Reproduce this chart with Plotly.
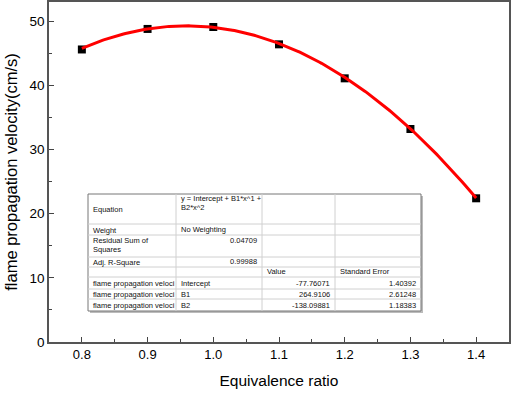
import numpy as np
import plotly.graph_objects as go

# Data
ratio = [0.8, 0.9, 1.0, 1.1, 1.2, 1.3, 1.4]
velocity = [45.6, 48.8, 49.1, 46.4, 41.1, 33.2, 22.4]
# Fit coefficients (from the reference table)
intercept, b1, b2 = -77.76071, 264.9106, -138.09881

x_ticks = [0.8, 0.9, 1.0, 1.1, 1.2, 1.3, 1.4]
x_ticklabels = ["0.8", "0.9", "1.0", "1.1", "1.2", "1.3", "1.4"]
y_ticks = [0, 10, 20, 30, 40, 50]

W, H = 512, 394
L, R, T, B = 49, 3, 2, 52
PW, PH = W - L - R, H - T - B

def px(X):
    return (X - L) / PW

def py(Y):
    return (H - B - Y) / PH

xf = np.linspace(0.8, 1.4, 200)
yf = intercept + b1 * xf + b2 * xf ** 2

fig = go.Figure()
fig.add_trace(go.Scatter(x=ratio, y=velocity, mode="markers",
                         marker=dict(symbol="square", size=8, color="black",
                                     line=dict(width=0)),
                         showlegend=False))
fig.add_trace(go.Scatter(x=xf, y=yf, mode="lines",
                         line=dict(color="#ff0000", width=3), showlegend=False))

font = "Liberation Sans, Arial, sans-serif"
fig.update_layout(
    width=W, height=H,
    margin=dict(l=L, r=R, t=T, b=B),
    paper_bgcolor="white", plot_bgcolor="white",
    font=dict(family=font, color="black"),
    xaxis=dict(range=[0.75, 1.45], tickvals=x_ticks, ticktext=x_ticklabels,
               automargin=False,
               ticks="inside", ticklen=5, tickwidth=1, tickcolor="#444",
               showline=True, linecolor="#555", linewidth=1.5, mirror=True,
               showgrid=False, zeroline=False, tickfont=dict(size=13),
               minor=dict(dtick=0.05, ticks="inside", ticklen=3, tickcolor="#444"),
               title=dict(text="Equivalence ratio", font=dict(size=15.5), standoff=14)),
    yaxis=dict(range=[0, 53], tickvals=y_ticks,
               automargin=False,
               ticks="inside", ticklen=5, tickwidth=1, tickcolor="#444",
               showline=True, linecolor="#555", linewidth=1.5, mirror=True,
               showgrid=False, zeroline=False, tickfont=dict(size=13.5),
               minor=dict(dtick=5, ticks="inside", ticklen=3, tickcolor="#444"),
               title=dict(text="flame propagation velocity(cm/s)", font=dict(size=16.5), standoff=8)),
)

# Table box
tx0, tx1, ty0, ty1 = 88, 421, 194, 311
cols = [88, 176, 262, 335, 421]
rows = [194, 224, 235, 257, 267, 277, 289, 299, 311]
shapes = []
shapes.append(dict(type="rect", xref="paper", yref="paper",
                   x0=px(tx0 + 2), x1=px(tx1 + 2), y0=py(ty1 + 2), y1=py(ty0 + 2),
                   fillcolor="#bbbbbb", line=dict(width=0)))
shapes.append(dict(type="rect", xref="paper", yref="paper",
                   x0=px(tx0), x1=px(tx1), y0=py(ty1), y1=py(ty0),
                   fillcolor="white", line=dict(color="#777", width=1)))
for c in cols[1:-1]:
    shapes.append(dict(type="line", xref="paper", yref="paper",
                       x0=px(c), x1=px(c), y0=py(ty1), y1=py(ty0),
                       line=dict(color="#d0d0d0", width=1)))
for r in rows[1:-1]:
    shapes.append(dict(type="line", xref="paper", yref="paper",
                       x0=px(tx0), x1=px(tx1), y0=py(r), y1=py(r),
                       line=dict(color="#d0d0d0", width=1)))
fig.update_layout(shapes=shapes)

fs = 7.5
def txt(s, X, Y, anchor="left"):
    fig.add_annotation(text=s, x=px(X), y=py(Y), xref="paper", yref="paper",
                       xanchor=anchor, yanchor="middle", showarrow=False,
                       font=dict(size=fs, color="#111", family=font))

txt("Equation", 91, 209)
txt("y = Intercept + B1*x^1 +", 179, 199)
txt("B2*x^2", 179, 207)
txt("Weight", 91, 230)
txt("No Weighting", 179, 229)
txt("Residual Sum of", 91, 241)
txt("Squares", 91, 249)
txt("0.04709", 259, 241, "right")
txt("Adj. R-Square", 91, 262)
txt("0.99988", 259, 261, "right")
txt("Value", 265, 271)
txt("Standard Error", 338, 271)
names = ["Intercept", "B1", "B2"]
vals = ["-77.76071", "264.9106", "-138.09881"]
ses = ["1.40392", "2.61248", "1.18383"]
for i, rc in enumerate([283, 294, 305]):
    txt("flame propagation veloci", 91, rc)
    txt(names[i], 179, rc)
    txt(vals[i], 332, rc, "right")
    txt(ses[i], 418, rc, "right")

fig.write_html("out.html", config={"displayModeBar": False},
               post_script="document.body.style.margin='0';")
